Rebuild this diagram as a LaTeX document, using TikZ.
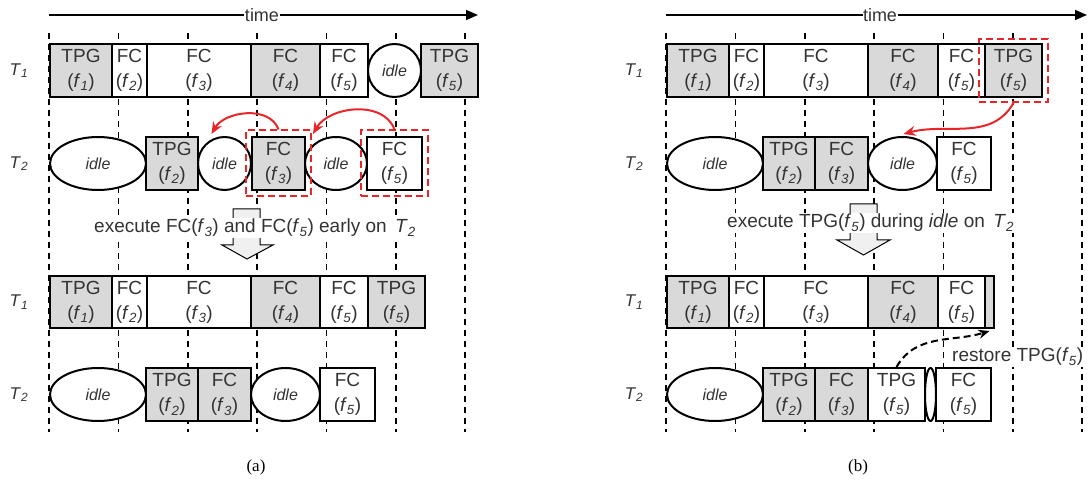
\documentclass[tikz,border=0pt]{standalone}
\usepackage{fontspec}
\setmainfont{Liberation Sans}
\newfontfamily\capfont{Liberation Serif}
\usetikzlibrary{shapes.geometric,arrows.meta,fit,calc}
\definecolor{txt}{HTML}{333333}
\definecolor{boxgray}{HTML}{D9D9D9}
\definecolor{arrgray}{HTML}{F0F0F0}
\definecolor{mark}{HTML}{E8262A}
\newcommand\fx[1]{(\textit{f}\textsubscript{\textit{#1}})}
\newcommand\thr[1]{\textit{T}\textsubscript{\textit{#1}}}
\tikzset{
  task/.style={rectangle, draw=black, line width=2pt, minimum height=53pt, inner sep=0pt,
    anchor=west, align=center, text=txt, font=\fontsize{19}{25}\selectfont},
  tg/.style={task, fill=boxgray},
  tw/.style={task, fill=white},
  idl/.style={ellipse, draw=black, line width=2pt, fill=white, minimum height=53pt, inner sep=0pt,
    anchor=west, text=txt, font=\fontsize{16}{16}\selectfont\itshape},
  gridline/.style={line width=1.6pt, dash pattern=on 6pt off 5pt},
  sel/.style={rectangle, draw=mark, line width=2pt, dash pattern=on 7pt off 4pt, inner xsep=5pt},
  move/.style={draw=mark, line width=2pt, -{Stealth[length=12pt,width=10pt]}},
  restore/.style={line width=2pt, dash pattern=on 7pt off 4pt, -{Stealth[length=11pt,width=9pt]}},
  lbl/.style={text=txt, font=\fontsize{19}{19}\selectfont, fill=white, inner sep=1pt},
  thread/.style={text=txt, font=\fontsize{17}{17}\selectfont},
  hollow/.style={draw=black, line width=1pt, fill=arrgray},
  timeline/.style={line width=1.6pt, -{Triangle[length=12pt,width=10pt]}},
}
\begin{document}
\begin{tikzpicture}[x=1pt,y=-1pt]
\useasboundingbox (0,0) rectangle (1088,481);

% time slots
\foreach \x in {49,118.3,187.7,257,326.3,395.7,465,666,735.3,804.7,874,943.3,1012.7,1082}
  \draw[gridline] (\x,33) -- (\x,432);

% time axes
\coordinate (ta0) at (49,15);  \coordinate (ta1) at (478,15);
\coordinate (tb0) at (666,15); \coordinate (tb1) at (1087,15);
\draw[timeline] (ta0) -- (ta1);
\draw[timeline] (tb0) -- (tb1);
\node[lbl, font=\fontsize{18}{18}\selectfont, inner sep=0.5pt] (timea) at (262,15) {time};
\node[lbl, font=\fontsize{18}{18}\selectfont, inner sep=0.5pt] (timeb) at (880,15) {time};

% thread labels
\foreach \px/\nm in {19/a,634/b} {
  \node[thread] (\nm t1) at (\px,70.5) {\thr{1}};
  \node[thread] (\nm t2) at (\px,163.5) {\thr{2}};
  \node[thread] (\nm t3) at (\px,302) {\thr{1}};
  \node[thread] (\nm t4) at (\px,394.5) {\thr{2}};
}

% hollow transition arrows
\draw[hollow] (233,209) -- (260,209) -- (260,245) -- (273,245) -- (247,259)
  -- (222,245) -- (233,245) -- cycle;
\draw[hollow] (850,204) -- (877,204) -- (877,240) -- (890,240) -- (863.5,255)
  -- (837,240) -- (850,240) -- cycle;
\node[lbl, anchor=west] (nota) at (93,228)
  {execute FC\fx{3} and FC\fx{5} early on \,\thr{2}};
\node[lbl, anchor=west] (notb) at (726,223)
  {execute TPG\fx{5} during \textit{idle} on \,\thr{2}};

% ---------- (a) before ----------
\node[tg, minimum width=62pt]  (a11) at (49,70.5)  {TPG\\\fx{1}};
\node[tw, minimum width=35pt]  (a12) at (111,70.5) {FC\\\fx{2}};
\node[tw, minimum width=104pt] (a13) at (146,70.5) {FC\\\fx{3}};
\node[tg, minimum width=69pt]  (a14) at (250,70.5) {FC\\\fx{4}};
\node[tw, minimum width=48pt]  (a15) at (319,70.5) {FC\\\fx{5}};
\node[idl, minimum width=53pt] (a16) at (367,70.5) {idle};
\node[tg, minimum width=57pt]  (a17) at (420,70.5) {TPG\\\fx{5}};

\node[idl, minimum width=96pt] (a21) at (49,163.5)  {idle};
\node[tg, minimum width=52pt]  (a22) at (145,163.5) {TPG\\\fx{2}};
\node[idl, minimum width=53pt] (a23) at (197,163.5) {idle};
\node[tg, minimum width=53pt]  (a24) at (251,163.5) {FC\\\fx{3}};
\node[idl, minimum width=62pt] (a25) at (304,163.5) {idle};
\node[tw, minimum width=55pt]  (a26) at (366,163.5) {FC\\\fx{5}};
\node[sel, inner ysep=5.5pt, fit=(a24)] (sa24) {};
\node[sel, inner ysep=5.5pt, fit=(a26)] (sa26) {};
\draw[move] (sa24.north) to[out=110,in=60] ($(a23.north)+(-13,-2)$);
\draw[move] (sa26.north) to[out=110,in=60] ($(a25.north)+(-23,-2)$);

% ---------- (a) after ----------
\node[tg, minimum width=62pt, minimum height=52pt]  (b11) at (49,302)  {TPG\\\fx{1}};
\node[tw, minimum width=35pt, minimum height=52pt]  (b12) at (111,302) {FC\\\fx{2}};
\node[tw, minimum width=104pt, minimum height=52pt] (b13) at (146,302) {FC\\\fx{3}};
\node[tg, minimum width=69pt, minimum height=52pt]  (b14) at (250,302) {FC\\\fx{4}};
\node[tw, minimum width=48pt, minimum height=52pt]  (b15) at (319,302) {FC\\\fx{5}};
\node[tg, minimum width=57pt, minimum height=52pt]  (b16) at (367,302) {TPG\\\fx{5}};

\node[idl, minimum width=96pt] (b21) at (49,394.5)  {idle};
\node[tg, minimum width=52pt]  (b22) at (145,394.5) {TPG\\\fx{2}};
\node[tg, minimum width=53pt]  (b23) at (197,394.5) {FC\\\fx{3}};
\node[idl, minimum width=69pt] (b24) at (250,394.5) {idle};
\node[tw, minimum width=55pt]  (b25) at (319,394.5) {FC\\\fx{5}};

% ---------- (b) before ----------
\node[tg, minimum width=62pt]  (c11) at (666,70.5) {TPG\\\fx{1}};
\node[tw, minimum width=35pt]  (c12) at (728,70.5) {FC\\\fx{2}};
\node[tw, minimum width=104pt] (c13) at (763,70.5) {FC\\\fx{3}};
\node[tg, minimum width=70pt]  (c14) at (867,70.5) {FC\\\fx{4}};
\node[tw, minimum width=47pt]  (c15) at (937,70.5) {FC\\\fx{5}};
\node[tg, minimum width=57pt]  (c16) at (984,70.5) {TPG\\\fx{5}};
\node[sel, inner ysep=4pt, fit=(c16)] (sc16) {};

\node[idl, minimum width=96pt] (c21) at (666,163.5) {idle};
\node[tg, minimum width=52pt]  (c22) at (762,163.5) {TPG\\\fx{2}};
\node[tg, minimum width=53pt]  (c23) at (814,163.5) {FC\\\fx{3}};
\node[idl, minimum width=69pt] (c24) at (867,163.5) {idle};
\node[tw, minimum width=54pt]  (c25) at (936,163.5) {FC\\\fx{5}};
\draw[move] (sc16.south) to[out=240,in=15] ($(c24.north)+(1,-2)$);

% ---------- (b) after ----------
\node[tg, minimum width=62pt, minimum height=52pt]  (d11) at (666,302) {TPG\\\fx{1}};
\node[tw, minimum width=35pt, minimum height=52pt]  (d12) at (728,302) {FC\\\fx{2}};
\node[tw, minimum width=104pt, minimum height=52pt] (d13) at (763,302) {FC\\\fx{3}};
\node[tg, minimum width=70pt, minimum height=52pt]  (d14) at (867,302) {FC\\\fx{4}};
\node[tw, minimum width=47pt, minimum height=52pt]  (d15) at (937,302) {FC\\\fx{5}};
\node[tg, minimum width=9pt, minimum height=52pt]   (d16) at (984,302) {};

\node[idl, minimum width=96pt] (d21) at (666,394.5) {idle};
\node[tg, minimum width=52pt]  (d22) at (762,394.5) {TPG\\\fx{2}};
\node[tg, minimum width=53pt]  (d23) at (814,394.5) {FC\\\fx{3}};
\node[tw, minimum width=57pt]  (d24) at (867,394.5) {TPG\\\fx{5}};
\node[idl, minimum width=11pt] (d25) at (924,394.5) {};
\node[tw, minimum width=55pt]  (d26) at (935,394.5) {FC\\\fx{5}};
\node[lbl, anchor=west] (rest) at (951,357) {restore TPG\fx{5}};
\draw[restore] (d24.north) to[out=60,in=197] ($(d16.south)+(0,2)$);

% captions
\node[font=\capfont\fontsize{17}{17}\selectfont] (capa) at (256,467) {(a)};
\node[font=\capfont\fontsize{17}{17}\selectfont] (capb) at (858,467) {(b)};
\end{tikzpicture}
\end{document}
